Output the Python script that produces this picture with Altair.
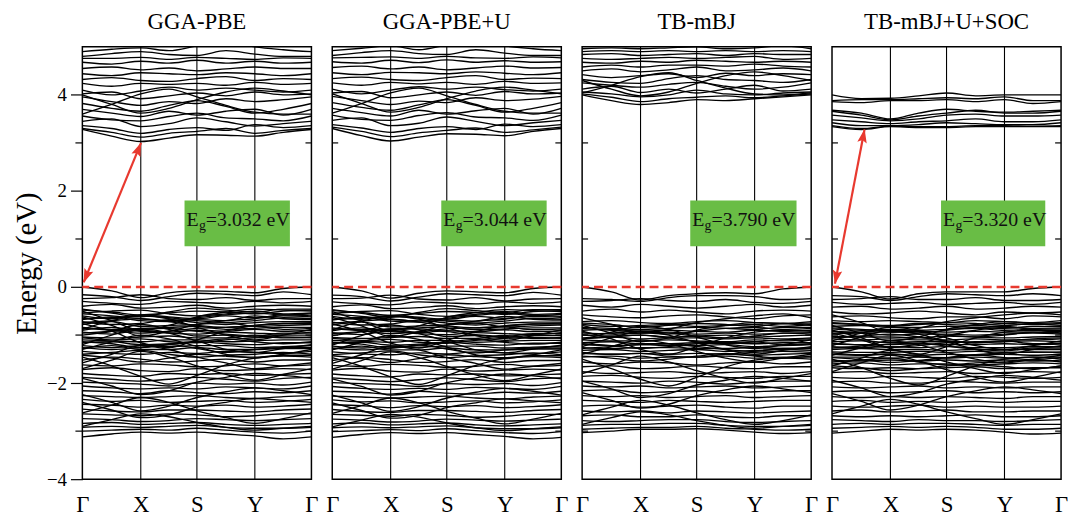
import math
import altair as alt
import pandas as pd

# ---------------- data ----------------
K_LABELS = ["Γ", "X", "S", "Y", "Γ"]
K_TICKS = [0.0, 0.255, 0.5, 0.753, 1.0]
KPTS = [0.0, 0.128, 0.255, 0.378, 0.5, 0.627, 0.753, 0.877, 1.0]

TITLES = ["GGA-PBE", "GGA-PBE+U", "TB-mBJ", "TB-mBJ+U+SOC"]
GAP_TEXT = ["=3.032 eV", "=3.044 eV", "=3.790 eV", "=3.320 eV"]
BOX_X = [(0.446, 0.906), (0.476, 0.936), (0.472, 0.936), (0.476, 0.931)]
BOX_Y = (0.85, 1.80)
TEXT_Y = 1.28
# arrows: panel index -> ((k_bottom, E_bottom), (k_top, E_top))
ARROWS = {0: ((0.006, 0.10), (0.256, 3.00)), 3: ((0.013, 0.07), (0.142, 3.28))}

PBE_CB = [
    [3.28, 3.14, 3.03, 3.10, 3.17, 3.16, 3.14, 3.22, 3.28],
    [3.30, 3.22, 3.12, 3.20, 3.24, 3.30, 3.20, 3.26, 3.30],
    [3.36, 3.30, 3.20, 3.28, 3.32, 3.26, 3.38, 3.32, 3.36],
    [3.45, 3.50, 3.34, 3.40, 3.52, 3.44, 3.35, 3.40, 3.45],
    [3.56, 3.48, 3.46, 3.55, 3.62, 3.52, 3.50, 3.46, 3.56],
    [3.70, 3.62, 3.55, 3.66, 3.58, 3.66, 3.70, 3.58, 3.70],
    [3.82, 3.72, 3.66, 3.78, 3.88, 3.76, 3.62, 3.70, 3.82],
    [3.96, 3.86, 3.78, 3.86, 3.82, 3.92, 3.86, 3.90, 3.96],
    [4.02, 4.06, 3.92, 3.98, 4.04, 3.98, 4.06, 4.00, 4.02],
    [4.10, 4.00, 4.08, 4.16, 4.10, 4.14, 4.10, 4.06, 4.10],
    [4.24, 4.18, 4.24, 4.22, 4.24, 4.20, 4.26, 4.22, 4.24],
    [4.32, 4.36, 4.30, 4.28, 4.34, 4.38, 4.30, 4.34, 4.32],
    [4.44, 4.40, 4.46, 4.44, 4.42, 4.46, 4.44, 4.40, 4.44],
    [4.55, 4.58, 4.52, 4.56, 4.50, 4.54, 4.58, 4.55, 4.55],
    [4.68, 4.64, 4.70, 4.66, 4.72, 4.66, 4.70, 4.66, 4.68],
    [4.76, 4.76, 4.78, 4.74, 4.78, 4.76, 4.74, 4.77, 4.76],
    [4.80, 4.86, 4.90, 4.84, 4.82, 4.92, 4.85, 4.80, 4.80],
    [4.90, 4.95, 4.98, 4.92, 5.02, 5.12, 5.00, 4.94, 4.90],
    [4.00, 3.80, 3.62, 3.72, 3.90, 4.06, 4.14, 4.08, 4.00],
    [3.60, 3.80, 4.02, 4.12, 3.96, 3.78, 3.64, 3.60, 3.60],
]
PBE_VB = [
    [0.00, -0.08, -0.22, -0.12, -0.08, -0.09, -0.12, -0.03, 0.00],
    [-0.16, -0.20, -0.28, -0.20, -0.13, -0.15, -0.18, -0.10, -0.16],
    [-0.24, -0.22, -0.16, -0.24, -0.26, -0.22, -0.28, -0.24, -0.24],
    [-0.30, -0.34, -0.36, -0.30, -0.32, -0.34, -0.30, -0.33, -0.30],
    [-0.40, -0.36, -0.44, -0.42, -0.38, -0.44, -0.40, -0.38, -0.40],
    [-0.46, -0.54, -0.62, -0.52, -0.44, -0.48, -0.52, -0.46, -0.46],
    [-0.54, -0.50, -0.48, -0.56, -0.60, -0.56, -0.50, -0.56, -0.54],
    [-0.60, -0.66, -0.58, -0.62, -0.66, -0.60, -0.64, -0.58, -0.60],
    [-0.68, -0.62, -0.70, -0.72, -0.68, -0.70, -0.60, -0.66, -0.68],
    [-0.72, -0.78, -0.76, -0.68, -0.74, -0.78, -0.74, -0.72, -0.72],
    [-0.78, -0.72, -0.82, -0.80, -0.78, -0.74, -0.82, -0.80, -0.78],
    [-0.84, -0.88, -0.86, -0.84, -0.82, -0.88, -0.86, -0.84, -0.84],
    [-0.90, -0.84, -0.92, -0.94, -0.90, -0.92, -0.88, -0.92, -0.90],
    [-0.94, -0.98, -0.90, -0.96, -0.98, -0.94, -0.96, -0.98, -0.94],
    [-1.00, -0.92, -0.78, -0.88, -1.02, -1.00, -1.04, -1.00, -1.00],
    [-1.04, -1.06, -1.04, -1.02, -1.06, -1.06, -1.00, -1.06, -1.04],
    [-1.10, -1.12, -1.14, -1.10, -1.10, -1.14, -1.12, -1.10, -1.10],
    [-1.16, -1.14, -1.20, -1.18, -1.14, -1.18, -1.20, -1.16, -1.16],
    [-1.22, -1.26, -1.22, -1.24, -1.22, -1.22, -1.26, -1.24, -1.22],
    [-1.28, -1.22, -1.30, -1.30, -1.26, -1.30, -1.30, -1.28, -1.28],
    [-1.34, -1.38, -1.40, -1.36, -1.38, -1.34, -1.36, -1.38, -1.34],
    [-1.42, -1.48, -1.56, -1.48, -1.40, -1.44, -1.46, -1.42, -1.42],
    [-1.52, -1.46, -1.50, -1.56, -1.54, -1.50, -1.56, -1.52, -1.52],
    [-1.62, -1.64, -1.60, -1.62, -1.66, -1.64, -1.60, -1.64, -1.62],
    [-1.72, -1.68, -1.74, -1.76, -1.70, -1.74, -1.72, -1.70, -1.72],
    [-1.80, -1.84, -1.86, -1.80, -1.82, -1.80, -1.84, -1.82, -1.80],
    [-1.88, -1.92, -1.96, -1.92, -1.88, -1.92, -1.96, -1.90, -1.88],
    [-1.98, -2.00, -2.02, -2.06, -2.00, -2.02, -2.00, -2.04, -1.98],
    [-2.06, -2.10, -2.12, -2.10, -2.12, -2.08, -2.10, -2.12, -2.06],
    [-2.16, -2.18, -2.22, -2.16, -2.20, -2.22, -2.18, -2.20, -2.16],
    [-2.26, -2.28, -2.30, -2.28, -2.26, -2.30, -2.32, -2.28, -2.26],
    [-2.34, -2.38, -2.36, -2.40, -2.38, -2.36, -2.40, -2.38, -2.34],
    [-2.44, -2.46, -2.50, -2.46, -2.48, -2.46, -2.50, -2.48, -2.44],
    [-2.54, -2.58, -2.60, -2.56, -2.56, -2.58, -2.60, -2.56, -2.54],
    [-2.64, -2.66, -2.68, -2.64, -2.66, -2.70, -2.68, -2.64, -2.64],
    [-2.74, -2.76, -2.80, -2.78, -2.74, -2.76, -2.78, -2.76, -2.74],
    [-2.84, -2.82, -2.86, -2.84, -2.82, -2.86, -2.88, -2.86, -2.84],
    [-2.92, -2.90, -2.92, -2.90, -2.88, -2.92, -2.94, -2.94, -2.92],
    [-3.00, -2.98, -2.96, -2.98, -2.94, -2.98, -3.02, -3.04, -3.00],
    [-3.12, -3.06, -3.02, -3.04, -3.02, -3.06, -3.10, -3.16, -3.12],
    [-0.62, -0.80, -1.02, -0.92, -0.78, -0.70, -0.66, -0.60, -0.62],
    [-1.20, -1.00, -0.86, -0.96, -1.12, -1.30, -1.36, -1.28, -1.20],
    [-1.70, -1.52, -1.34, -1.46, -1.64, -1.82, -1.94, -1.82, -1.70],
    [-2.24, -2.40, -2.58, -2.48, -2.30, -2.18, -2.10, -2.16, -2.24],
    [-1.46, -1.64, -1.86, -2.02, -1.84, -1.62, -1.48, -1.44, -1.46],
    [-2.62, -2.46, -2.30, -2.40, -2.58, -2.72, -2.84, -2.74, -2.62],
    [-0.50, -0.70, -0.90, -0.80, -0.62, -0.52, -0.46, -0.48, -0.50],
    [-0.88, -0.70, -0.60, -0.66, -0.84, -1.00, -1.10, -1.00, -0.88],
    [-1.30, -1.14, -1.00, -1.08, -1.24, -1.40, -1.48, -1.40, -1.30],
    [-0.76, -0.92, -1.16, -1.26, -1.10, -0.92, -0.80, -0.76, -0.76],
    [-1.58, -1.40, -1.22, -1.30, -1.46, -1.58, -1.70, -1.64, -1.58],
    [-1.90, -2.06, -2.24, -2.16, -1.98, -1.88, -1.80, -1.84, -1.90],
    [-2.40, -2.56, -2.72, -2.66, -2.50, -2.40, -2.32, -2.36, -2.40],
    [-2.90, -2.76, -2.64, -2.70, -2.82, -2.92, -2.98, -2.94, -2.90],
    [-0.48, -0.52, -0.58, -0.54, -0.50, -0.52, -0.56, -0.50, -0.48],
    [-0.56, -0.60, -0.66, -0.70, -0.64, -0.58, -0.54, -0.58, -0.56],
    [-0.66, -0.64, -0.60, -0.64, -0.70, -0.74, -0.70, -0.64, -0.66],
    [-0.74, -0.70, -0.66, -0.72, -0.80, -0.84, -0.80, -0.76, -0.74],
    [-0.86, -0.90, -0.96, -0.92, -0.86, -0.84, -0.82, -0.88, -0.86],
    [-0.96, -0.92, -0.88, -0.86, -0.92, -0.98, -1.02, -0.96, -0.96],
    [-1.06, -1.10, -1.08, -1.14, -1.16, -1.10, -1.06, -1.04, -1.06],
    [-1.14, -1.18, -1.26, -1.20, -1.14, -1.08, -1.14, -1.18, -1.14],
    [-1.26, -1.30, -1.26, -1.20, -1.28, -1.36, -1.30, -1.26, -1.26],
    [-1.40, -1.36, -1.32, -1.40, -1.46, -1.42, -1.40, -1.36, -1.40],
]

PBEU_CB = [
    [3.30, 3.15, 3.04, 3.12, 3.19, 3.18, 3.15, 3.24, 3.30],
    [3.33, 3.24, 3.13, 3.21, 3.26, 3.31, 3.22, 3.27, 3.33],
    [3.38, 3.31, 3.22, 3.30, 3.34, 3.28, 3.39, 3.34, 3.38],
    [3.47, 3.52, 3.36, 3.41, 3.54, 3.45, 3.36, 3.42, 3.47],
    [3.58, 3.49, 3.47, 3.57, 3.63, 3.54, 3.52, 3.47, 3.58],
    [3.72, 3.63, 3.56, 3.68, 3.60, 3.67, 3.72, 3.60, 3.72],
    [3.84, 3.74, 3.68, 3.79, 3.90, 3.78, 3.64, 3.72, 3.84],
    [3.97, 3.88, 3.80, 3.87, 3.84, 3.94, 3.88, 3.91, 3.97],
    [4.04, 4.07, 3.94, 4.00, 4.06, 3.99, 4.07, 4.02, 4.04],
    [4.12, 4.02, 4.10, 4.17, 4.12, 4.16, 4.11, 4.08, 4.12],
    [4.25, 4.20, 4.26, 4.23, 4.26, 4.22, 4.28, 4.24, 4.25],
    [4.34, 4.37, 4.32, 4.30, 4.36, 4.40, 4.32, 4.35, 4.34],
    [4.46, 4.42, 4.47, 4.46, 4.44, 4.48, 4.45, 4.42, 4.46],
    [4.57, 4.60, 4.54, 4.58, 4.52, 4.56, 4.60, 4.56, 4.57],
    [4.69, 4.66, 4.72, 4.67, 4.73, 4.68, 4.71, 4.68, 4.69],
    [4.77, 4.78, 4.79, 4.76, 4.80, 4.77, 4.76, 4.79, 4.77],
    [4.82, 4.88, 4.92, 4.86, 4.84, 4.94, 4.87, 4.82, 4.82],
    [4.92, 4.97, 5.02, 4.94, 5.04, 5.14, 5.02, 4.96, 4.92],
    [4.02, 3.82, 3.64, 3.74, 3.92, 4.08, 4.16, 4.10, 4.02],
    [3.62, 3.82, 4.04, 4.14, 3.98, 3.80, 3.66, 3.62, 3.62],
]
PBEU_VB = [
    [0.00, -0.08, -0.23, -0.13, -0.08, -0.10, -0.12, -0.03, 0.00],
    [-0.17, -0.20, -0.29, -0.21, -0.14, -0.16, -0.18, -0.11, -0.17],
    [-0.24, -0.23, -0.17, -0.25, -0.27, -0.22, -0.29, -0.25, -0.24],
    [-0.31, -0.35, -0.37, -0.31, -0.33, -0.35, -0.31, -0.34, -0.31],
    [-0.41, -0.37, -0.45, -0.43, -0.39, -0.45, -0.41, -0.39, -0.41],
    [-0.47, -0.55, -0.63, -0.53, -0.45, -0.49, -0.53, -0.47, -0.47],
    [-0.55, -0.51, -0.49, -0.57, -0.61, -0.57, -0.51, -0.57, -0.55],
    [-0.61, -0.67, -0.59, -0.63, -0.67, -0.61, -0.65, -0.59, -0.61],
    [-0.69, -0.63, -0.71, -0.73, -0.69, -0.71, -0.61, -0.67, -0.69],
    [-0.73, -0.79, -0.77, -0.69, -0.75, -0.79, -0.75, -0.73, -0.73],
    [-0.79, -0.73, -0.83, -0.81, -0.79, -0.75, -0.83, -0.81, -0.79],
    [-0.85, -0.89, -0.87, -0.85, -0.83, -0.89, -0.87, -0.85, -0.85],
    [-0.91, -0.85, -0.93, -0.95, -0.91, -0.93, -0.89, -0.93, -0.91],
    [-0.95, -0.99, -0.91, -0.97, -0.99, -0.95, -0.97, -0.99, -0.95],
    [-1.01, -0.93, -0.79, -0.89, -1.03, -1.01, -1.05, -1.01, -1.01],
    [-1.05, -1.07, -1.05, -1.03, -1.07, -1.07, -1.01, -1.07, -1.05],
    [-1.11, -1.13, -1.15, -1.11, -1.11, -1.15, -1.13, -1.11, -1.11],
    [-1.17, -1.15, -1.21, -1.19, -1.15, -1.19, -1.21, -1.17, -1.17],
    [-1.23, -1.27, -1.23, -1.25, -1.23, -1.23, -1.27, -1.25, -1.23],
    [-1.29, -1.23, -1.31, -1.31, -1.27, -1.31, -1.31, -1.29, -1.29],
    [-1.35, -1.39, -1.41, -1.37, -1.39, -1.35, -1.37, -1.39, -1.35],
    [-1.43, -1.49, -1.57, -1.49, -1.41, -1.45, -1.47, -1.43, -1.43],
    [-1.53, -1.47, -1.51, -1.57, -1.55, -1.51, -1.57, -1.53, -1.53],
    [-1.63, -1.65, -1.61, -1.63, -1.67, -1.65, -1.61, -1.65, -1.63],
    [-1.73, -1.69, -1.75, -1.77, -1.71, -1.75, -1.73, -1.71, -1.73],
    [-1.81, -1.85, -1.87, -1.81, -1.83, -1.81, -1.85, -1.83, -1.81],
    [-1.89, -1.93, -1.97, -1.93, -1.89, -1.93, -1.97, -1.91, -1.89],
    [-1.99, -2.01, -2.03, -2.07, -2.01, -2.03, -2.01, -2.05, -1.99],
    [-2.07, -2.11, -2.13, -2.11, -2.13, -2.09, -2.11, -2.13, -2.07],
    [-2.17, -2.19, -2.23, -2.17, -2.21, -2.23, -2.19, -2.21, -2.17],
    [-2.27, -2.29, -2.31, -2.29, -2.27, -2.31, -2.33, -2.29, -2.27],
    [-2.35, -2.39, -2.37, -2.41, -2.39, -2.37, -2.41, -2.39, -2.35],
    [-2.45, -2.47, -2.51, -2.47, -2.49, -2.47, -2.51, -2.49, -2.45],
    [-2.55, -2.59, -2.61, -2.57, -2.57, -2.59, -2.61, -2.57, -2.55],
    [-2.65, -2.67, -2.69, -2.65, -2.67, -2.71, -2.69, -2.65, -2.65],
    [-2.75, -2.77, -2.81, -2.79, -2.75, -2.77, -2.79, -2.77, -2.75],
    [-2.85, -2.83, -2.87, -2.85, -2.83, -2.87, -2.89, -2.87, -2.85],
    [-2.93, -2.91, -2.93, -2.91, -2.89, -2.93, -2.95, -2.95, -2.93],
    [-3.01, -2.99, -2.97, -2.99, -2.95, -2.99, -3.03, -3.05, -3.01],
    [-3.13, -3.07, -3.03, -3.05, -3.03, -3.07, -3.11, -3.16, -3.13],
    [-0.63, -0.81, -1.03, -0.93, -0.79, -0.71, -0.67, -0.61, -0.63],
    [-1.21, -1.01, -0.87, -0.97, -1.13, -1.31, -1.37, -1.29, -1.21],
    [-1.71, -1.53, -1.35, -1.47, -1.65, -1.83, -1.95, -1.83, -1.71],
    [-2.25, -2.41, -2.59, -2.49, -2.31, -2.19, -2.11, -2.17, -2.25],
    [-1.47, -1.65, -1.87, -2.03, -1.85, -1.63, -1.49, -1.45, -1.47],
    [-2.63, -2.47, -2.31, -2.41, -2.59, -2.73, -2.85, -2.75, -2.63],
    [-0.51, -0.71, -0.91, -0.81, -0.63, -0.53, -0.47, -0.49, -0.51],
    [-0.89, -0.71, -0.61, -0.67, -0.85, -1.01, -1.11, -1.01, -0.89],
    [-1.31, -1.15, -1.01, -1.09, -1.25, -1.41, -1.49, -1.41, -1.31],
    [-0.77, -0.93, -1.17, -1.27, -1.11, -0.93, -0.81, -0.77, -0.77],
    [-1.59, -1.41, -1.23, -1.31, -1.47, -1.59, -1.71, -1.65, -1.59],
    [-1.91, -2.07, -2.25, -2.17, -1.99, -1.89, -1.81, -1.85, -1.91],
    [-2.41, -2.57, -2.73, -2.67, -2.51, -2.41, -2.33, -2.37, -2.41],
    [-2.91, -2.77, -2.65, -2.71, -2.83, -2.93, -2.99, -2.95, -2.91],
    [-0.49, -0.53, -0.59, -0.55, -0.51, -0.53, -0.57, -0.51, -0.49],
    [-0.57, -0.61, -0.67, -0.71, -0.65, -0.59, -0.55, -0.59, -0.57],
    [-0.67, -0.65, -0.61, -0.65, -0.71, -0.75, -0.71, -0.65, -0.67],
    [-0.75, -0.71, -0.67, -0.73, -0.81, -0.85, -0.81, -0.77, -0.75],
    [-0.87, -0.91, -0.97, -0.93, -0.87, -0.85, -0.83, -0.89, -0.87],
    [-0.97, -0.93, -0.89, -0.87, -0.93, -0.99, -1.03, -0.97, -0.97],
    [-1.07, -1.11, -1.09, -1.15, -1.17, -1.11, -1.07, -1.05, -1.07],
    [-1.15, -1.19, -1.27, -1.21, -1.15, -1.09, -1.15, -1.19, -1.15],
    [-1.27, -1.31, -1.27, -1.21, -1.29, -1.37, -1.31, -1.27, -1.27],
    [-1.41, -1.37, -1.33, -1.41, -1.47, -1.43, -1.41, -1.37, -1.41],
]

MBJ_CB = [
    [4.00, 3.88, 3.80, 3.84, 3.90, 3.88, 3.92, 3.96, 4.00],
    [4.02, 3.95, 3.86, 3.92, 3.95, 3.98, 3.94, 3.98, 4.02],
    [4.06, 4.02, 3.96, 4.00, 4.10, 4.02, 4.00, 4.04, 4.06],
    [4.12, 4.18, 4.05, 4.12, 4.04, 4.12, 4.20, 4.08, 4.12],
    [4.25, 4.20, 4.16, 4.22, 4.26, 4.18, 4.12, 4.16, 4.25],
    [4.32, 4.26, 4.24, 4.34, 4.40, 4.32, 4.30, 4.26, 4.32],
    [4.42, 4.36, 4.40, 4.44, 4.36, 4.45, 4.40, 4.44, 4.42],
    [4.50, 4.54, 4.48, 4.52, 4.58, 4.50, 4.52, 4.56, 4.50],
    [4.58, 4.62, 4.58, 4.62, 4.62, 4.60, 4.64, 4.60, 4.58],
    [4.68, 4.66, 4.70, 4.68, 4.72, 4.70, 4.68, 4.70, 4.68],
    [4.76, 4.74, 4.76, 4.78, 4.76, 4.78, 4.80, 4.74, 4.76],
    [4.84, 4.86, 4.82, 4.84, 4.86, 4.82, 4.86, 4.84, 4.84],
    [4.90, 4.92, 4.90, 4.92, 4.90, 4.92, 4.90, 4.92, 4.90],
    [4.96, 4.98, 4.96, 4.98, 5.00, 4.96, 4.98, 5.02, 4.96],
    [4.30, 4.12, 3.98, 4.06, 4.24, 4.40, 4.48, 4.40, 4.30],
    [4.04, 4.20, 4.38, 4.46, 4.30, 4.14, 4.02, 4.00, 4.04],
]
MBJ_VB = [
    [0.00, -0.10, -0.27, -0.18, -0.14, -0.12, -0.14, -0.04, 0.00],
    [-0.24, -0.26, -0.30, -0.22, -0.18, -0.18, -0.20, -0.26, -0.24],
    [-0.30, -0.28, -0.24, -0.28, -0.30, -0.26, -0.32, -0.34, -0.30],
    [-0.38, -0.42, -0.36, -0.40, -0.44, -0.40, -0.36, -0.42, -0.38],
    [-0.50, -0.46, -0.52, -0.48, -0.52, -0.56, -0.50, -0.48, -0.50],
    [-0.58, -0.62, -0.64, -0.60, -0.58, -0.62, -0.66, -0.60, -0.58],
    [-0.72, -0.70, -0.74, -0.76, -0.72, -0.70, -0.74, -0.76, -0.72],
    [-0.78, -0.82, -0.80, -0.78, -0.82, -0.80, -0.78, -0.82, -0.78],
    [-0.84, -0.86, -0.88, -0.86, -0.84, -0.86, -0.88, -0.84, -0.84],
    [-0.90, -0.88, -0.92, -0.90, -0.92, -0.94, -0.90, -0.92, -0.90],
    [-0.95, -0.98, -0.96, -0.94, -0.98, -0.96, -0.98, -0.96, -0.95],
    [-1.00, -1.02, -1.00, -1.04, -1.02, -1.00, -1.04, -1.02, -1.00],
    [-1.06, -1.04, -1.08, -1.06, -1.06, -1.08, -1.06, -1.08, -1.06],
    [-1.10, -1.12, -1.12, -1.10, -1.12, -1.14, -1.10, -1.12, -1.10],
    [-1.16, -1.14, -1.18, -1.18, -1.16, -1.16, -1.18, -1.16, -1.16],
    [-1.20, -1.22, -1.20, -1.22, -1.22, -1.20, -1.24, -1.22, -1.20],
    [-1.26, -1.28, -1.26, -1.26, -1.28, -1.28, -1.26, -1.28, -1.26],
    [-1.32, -1.30, -1.34, -1.32, -1.30, -1.34, -1.32, -1.30, -1.32],
    [-1.38, -1.40, -1.38, -1.40, -1.38, -1.40, -1.42, -1.40, -1.38],
    [-1.46, -1.44, -1.48, -1.46, -1.46, -1.44, -1.48, -1.46, -1.46],
    [-1.56, -1.60, -1.56, -1.58, -1.62, -1.58, -1.56, -1.60, -1.56],
    [-1.66, -1.64, -1.70, -1.68, -1.64, -1.68, -1.70, -1.66, -1.66],
    [-1.76, -1.80, -1.78, -1.76, -1.80, -1.78, -1.76, -1.80, -1.76],
    [-1.86, -1.84, -1.88, -1.90, -1.86, -1.88, -1.90, -1.86, -1.86],
    [-1.96, -1.98, -2.00, -1.96, -1.98, -2.02, -1.98, -1.96, -1.96],
    [-2.06, -2.08, -2.06, -2.10, -2.08, -2.06, -2.10, -2.08, -2.06],
    [-2.16, -2.14, -2.20, -2.18, -2.16, -2.20, -2.18, -2.16, -2.16],
    [-2.26, -2.28, -2.26, -2.30, -2.28, -2.26, -2.30, -2.28, -2.26],
    [-2.36, -2.38, -2.40, -2.36, -2.38, -2.40, -2.38, -2.36, -2.36],
    [-2.48, -2.46, -2.50, -2.48, -2.46, -2.50, -2.52, -2.48, -2.48],
    [-2.58, -2.60, -2.58, -2.62, -2.58, -2.60, -2.62, -2.60, -2.58],
    [-2.68, -2.66, -2.70, -2.70, -2.66, -2.70, -2.72, -2.68, -2.68],
    [-2.78, -2.80, -2.78, -2.76, -2.76, -2.80, -2.82, -2.80, -2.78],
    [-2.88, -2.86, -2.86, -2.84, -2.84, -2.88, -2.90, -2.90, -2.88],
    [-2.96, -2.94, -2.92, -2.92, -2.90, -2.94, -2.96, -2.98, -2.96],
    [-3.03, -3.00, -2.96, -2.96, -2.95, -2.98, -3.02, -3.05, -3.03],
    [-0.64, -0.78, -0.96, -0.88, -0.74, -0.66, -0.60, -0.56, -0.64],
    [-1.24, -1.06, -0.92, -1.00, -1.16, -1.30, -1.40, -1.32, -1.24],
    [-1.80, -1.62, -1.44, -1.56, -1.74, -1.90, -2.00, -1.90, -1.80],
    [-2.20, -2.36, -2.52, -2.44, -2.26, -2.14, -2.06, -2.12, -2.20],
    [-1.50, -1.70, -1.92, -2.06, -1.88, -1.66, -1.52, -1.48, -1.50],
    [-2.66, -2.50, -2.36, -2.46, -2.62, -2.76, -2.86, -2.78, -2.66],
    [-0.80, -0.96, -1.14, -1.06, -0.90, -0.80, -0.74, -0.76, -0.80],
    [-1.10, -0.94, -0.82, -0.88, -1.04, -1.20, -1.28, -1.20, -1.10],
    [-1.40, -1.24, -1.10, -1.18, -1.34, -1.48, -1.56, -1.48, -1.40],
    [-0.92, -1.08, -1.30, -1.40, -1.24, -1.06, -0.94, -0.90, -0.92],
    [-1.96, -2.12, -2.30, -2.22, -2.04, -1.94, -1.86, -1.90, -1.96],
    [-2.86, -2.72, -2.60, -2.66, -2.78, -2.88, -2.94, -2.90, -2.86],
    [-0.75, -0.78, -0.84, -0.80, -0.76, -0.78, -0.82, -0.76, -0.75],
    [-0.86, -0.90, -0.94, -0.98, -0.92, -0.86, -0.84, -0.88, -0.86],
    [-0.98, -0.96, -0.92, -0.96, -1.02, -1.06, -1.02, -0.96, -0.98],
    [-1.08, -1.04, -1.00, -1.06, -1.14, -1.18, -1.14, -1.10, -1.08],
    [-1.18, -1.22, -1.28, -1.24, -1.18, -1.16, -1.14, -1.20, -1.18],
    [-1.28, -1.24, -1.20, -1.18, -1.24, -1.30, -1.34, -1.28, -1.28],
    [-1.36, -1.40, -1.38, -1.44, -1.46, -1.40, -1.36, -1.34, -1.36],
    [-1.44, -1.48, -1.54, -1.50, -1.44, -1.38, -1.44, -1.48, -1.44],
]

SOC_CB = [
    [4.00, 3.92, 3.93, 3.98, 4.04, 3.98, 4.00, 4.00, 4.00],
    [3.88, 3.90, 3.90, 3.92, 3.94, 3.92, 3.96, 3.88, 3.88],
    [3.86, 3.84, 3.88, 3.88, 3.90, 3.86, 3.90, 3.82, 3.86],
    [3.68, 3.62, 3.50, 3.62, 3.70, 3.66, 3.64, 3.66, 3.68],
    [3.66, 3.58, 3.48, 3.56, 3.62, 3.68, 3.62, 3.62, 3.66],
    [3.58, 3.52, 3.46, 3.50, 3.58, 3.60, 3.56, 3.56, 3.58],
    [3.48, 3.44, 3.40, 3.44, 3.46, 3.50, 3.44, 3.44, 3.48],
    [3.42, 3.36, 3.36, 3.38, 3.42, 3.40, 3.38, 3.38, 3.42],
    [3.36, 3.30, 3.35, 3.34, 3.34, 3.36, 3.36, 3.35, 3.36],
    [3.34, 3.28, 3.34, 3.32, 3.32, 3.34, 3.34, 3.34, 3.34],
]
SOC_VB = [
    [0.00, -0.10, -0.25, -0.14, -0.10, -0.10, -0.10, -0.03, 0.00],
    [-0.18, -0.20, -0.28, -0.20, -0.14, -0.16, -0.18, -0.14, -0.18],
    [-0.26, -0.24, -0.20, -0.26, -0.26, -0.22, -0.28, -0.28, -0.26],
    [-0.32, -0.36, -0.34, -0.32, -0.36, -0.34, -0.32, -0.36, -0.32],
    [-0.42, -0.40, -0.46, -0.44, -0.40, -0.46, -0.44, -0.40, -0.42],
    [-0.52, -0.56, -0.54, -0.50, -0.54, -0.58, -0.52, -0.54, -0.52],
    [-0.62, -0.60, -0.64, -0.66, -0.62, -0.62, -0.66, -0.60, -0.62],
    [-0.70, -0.72, -0.70, -0.72, -0.74, -0.70, -0.72, -0.74, -0.70],
    [-0.76, -0.78, -0.80, -0.76, -0.78, -0.80, -0.76, -0.78, -0.76],
    [-0.82, -0.80, -0.84, -0.84, -0.82, -0.84, -0.86, -0.82, -0.82],
    [-0.87, -0.90, -0.88, -0.90, -0.88, -0.86, -0.90, -0.88, -0.87],
    [-0.92, -0.94, -0.94, -0.92, -0.94, -0.92, -0.94, -0.94, -0.92],
    [-0.98, -0.96, -1.00, -0.98, -0.98, -1.00, -0.98, -0.96, -0.98],
    [-1.03, -1.04, -1.04, -1.06, -1.02, -1.04, -1.06, -1.04, -1.03],
    [-1.08, -1.10, -1.08, -1.10, -1.10, -1.08, -1.10, -1.10, -1.08],
    [-1.14, -1.12, -1.16, -1.14, -1.14, -1.16, -1.14, -1.12, -1.14],
    [-1.19, -1.20, -1.20, -1.18, -1.20, -1.20, -1.18, -1.20, -1.19],
    [-1.24, -1.26, -1.24, -1.26, -1.24, -1.26, -1.26, -1.24, -1.24],
    [-1.30, -1.28, -1.30, -1.30, -1.32, -1.30, -1.30, -1.30, -1.30],
    [-1.35, -1.36, -1.36, -1.34, -1.36, -1.34, -1.36, -1.36, -1.35],
    [-1.40, -1.42, -1.40, -1.42, -1.40, -1.42, -1.40, -1.42, -1.40],
    [-1.46, -1.46, -1.48, -1.46, -1.48, -1.46, -1.48, -1.46, -1.46],
    [-1.52, -1.54, -1.52, -1.54, -1.52, -1.54, -1.52, -1.54, -1.52],
    [-1.60, -1.58, -1.62, -1.60, -1.60, -1.62, -1.60, -1.58, -1.60],
    [-1.68, -1.70, -1.68, -1.70, -1.68, -1.66, -1.70, -1.68, -1.68],
    [-1.78, -1.76, -1.80, -1.78, -1.76, -1.80, -1.78, -1.76, -1.78],
    [-1.88, -1.90, -1.86, -1.88, -1.90, -1.86, -1.88, -1.90, -1.88],
    [-1.98, -1.96, -2.00, -2.00, -1.96, -1.98, -2.00, -1.98, -1.98],
    [-2.08, -2.10, -2.08, -2.06, -2.10, -2.08, -2.10, -2.08, -2.08],
    [-2.18, -2.16, -2.20, -2.18, -2.16, -2.20, -2.18, -2.20, -2.18],
    [-2.28, -2.30, -2.28, -2.30, -2.28, -2.30, -2.32, -2.28, -2.28],
    [-2.38, -2.36, -2.40, -2.38, -2.40, -2.38, -2.40, -2.38, -2.38],
    [-2.48, -2.50, -2.48, -2.46, -2.50, -2.48, -2.50, -2.50, -2.48],
    [-2.58, -2.56, -2.60, -2.58, -2.56, -2.60, -2.60, -2.58, -2.58],
    [-2.68, -2.70, -2.68, -2.70, -2.68, -2.66, -2.70, -2.70, -2.68],
    [-2.76, -2.78, -2.80, -2.76, -2.78, -2.78, -2.80, -2.78, -2.76],
    [-2.86, -2.84, -2.86, -2.84, -2.84, -2.86, -2.88, -2.86, -2.86],
    [-2.94, -2.92, -2.90, -2.92, -2.90, -2.92, -2.96, -2.96, -2.94],
    [-3.04, -3.00, -2.96, -2.98, -2.96, -2.98, -3.02, -3.06, -3.04],
    [-0.58, -0.74, -0.94, -0.86, -0.72, -0.64, -0.58, -0.54, -0.58],
    [-1.22, -1.04, -0.90, -0.98, -1.14, -1.30, -1.40, -1.30, -1.22],
    [-1.76, -1.58, -1.42, -1.54, -1.72, -1.88, -1.98, -1.88, -1.76],
    [-2.22, -2.38, -2.56, -2.46, -2.28, -2.16, -2.08, -2.14, -2.22],
    [-1.50, -1.68, -1.90, -2.04, -1.86, -1.64, -1.50, -1.46, -1.50],
    [-2.64, -2.48, -2.34, -2.44, -2.60, -2.74, -2.86, -2.76, -2.64],
    [-0.96, -1.10, -1.26, -1.18, -1.02, -0.90, -0.84, -0.88, -0.96],
    [-0.80, -0.96, -1.12, -1.04, -0.88, -0.78, -0.72, -0.76, -0.80],
    [-1.12, -0.96, -0.84, -0.90, -1.06, -1.22, -1.30, -1.22, -1.12],
    [-1.42, -1.26, -1.12, -1.20, -1.36, -1.50, -1.58, -1.50, -1.42],
    [-0.90, -1.06, -1.28, -1.40, -1.24, -1.06, -0.94, -0.90, -0.90],
    [-1.64, -1.48, -1.32, -1.40, -1.56, -1.70, -1.80, -1.72, -1.64],
    [-1.94, -2.10, -2.28, -2.20, -2.02, -1.92, -1.84, -1.88, -1.94],
    [-0.74, -0.78, -0.82, -0.78, -0.74, -0.76, -0.80, -0.76, -0.74],
    [-0.85, -0.88, -0.92, -0.96, -0.90, -0.84, -0.82, -0.86, -0.85],
    [-0.96, -0.94, -0.90, -0.94, -1.00, -1.04, -1.00, -0.94, -0.96],
    [-1.06, -1.02, -0.98, -1.04, -1.12, -1.16, -1.12, -1.08, -1.06],
    [-1.17, -1.21, -1.26, -1.22, -1.16, -1.14, -1.12, -1.18, -1.17],
    [-1.27, -1.23, -1.19, -1.17, -1.23, -1.29, -1.33, -1.27, -1.27],
    [-1.37, -1.41, -1.39, -1.45, -1.47, -1.41, -1.37, -1.35, -1.37],
    [-1.47, -1.51, -1.57, -1.53, -1.47, -1.41, -1.47, -1.51, -1.47],
    [-1.56, -1.52, -1.48, -1.56, -1.62, -1.58, -1.56, -1.52, -1.56],
    [-1.64, -1.68, -1.74, -1.70, -1.64, -1.62, -1.66, -1.70, -1.64],
]

PANEL_BANDS = [PBE_CB + PBE_VB, PBEU_CB + PBEU_VB, MBJ_CB + MBJ_VB, SOC_CB + SOC_VB]

# ---------------- layout / style ----------------
W, H = 231, 436
E_MIN, E_MAX = -4, 5
PX_PER_EV = H / (E_MAX - E_MIN)
SERIF = "Liberation Serif"
RED = "#e8392f"
GREEN = "#69bd45"
ARROW_PATH = "M0,-1L0.6,0.75L0,0.42L-0.6,0.75Z"
HEAD_SIZE = 256  # half-extent 8 px

xscale = alt.Scale(domain=[0, 1], nice=False, zero=False)
yscale = alt.Scale(domain=[E_MIN, E_MAX], nice=False, zero=False)

label_expr = f"{K_LABELS}[indexof({K_TICKS}, datum.value)]"
x_axis = alt.Axis(values=K_TICKS, labelExpr=label_expr, ticks=False, domain=False,
                  grid=False, title=None, labelFont=SERIF, labelFontSize=23,
                  labelColor="black", labelPadding=15, labelFlush=False,
                  labelOverlap=False, labelBound=False)


def y_axis(first):
    if not first:
        return None
    return alt.Axis(values=[-4, -2, 0, 2, 4], tickSize=12, tickColor="black",
                    tickWidth=1.2, domain=False, grid=False, labelFont=SERIF,
                    labelFontSize=19, labelColor="black", labelPadding=4,
                    title="Energy (eV)", titleFont=SERIF, titleFontSize=29,
                    titleFontWeight="normal", titleColor="black", titlePadding=5)


def panel(i):
    YA = y_axis(i == 0)

    def X(field):
        return alt.X(field, scale=xscale, axis=x_axis)

    def Y(field):
        return alt.Y(field, scale=yscale, axis=YA)

    rows = []
    for b, vals in enumerate(PANEL_BANDS[i]):
        for k, e in zip(KPTS, vals):
            rows.append({"band": b, "k": k, "E": e})
    bands_df = pd.DataFrame(rows)

    bands = alt.Chart(bands_df).mark_line(
        color="black", strokeWidth=1.35, interpolate="monotone", clip=True
    ).encode(x=X("k:Q"), y=Y("E:Q"), detail="band:N")

    vlines = alt.Chart(pd.DataFrame({"k": K_TICKS[1:-1]})).mark_rule(
        color="black", strokeWidth=1.1
    ).encode(x=X("k:Q"))

    zero = alt.Chart(pd.DataFrame({"E": [0.0]})).mark_rule(
        color=RED, strokeWidth=2.6, strokeDash=[9, 5]
    ).encode(y=Y("E:Q"))

    # minor ticks (odd energies), drawn as short rules on the frame
    odd = [-3, -1, 1, 3]
    trows = []
    for e in odd:
        trows.append({"k": 1 - 6 / W, "k2": 1.0, "E": e})
        if i == 0:
            trows.append({"k": -7 / W, "k2": 0.0, "E": e})
        else:
            trows.append({"k": 0.0, "k2": 6 / W, "E": e})
    ticks = alt.Chart(pd.DataFrame(trows)).mark_rule(
        color="black", strokeWidth=1.2
    ).encode(x=X("k:Q"), x2="k2:Q", y=Y("E:Q"))

    bx0, bx1 = BOX_X[i]
    box = alt.Chart(pd.DataFrame({"k": [bx0], "k2": [bx1], "E": [BOX_Y[0]], "E2": [BOX_Y[1]]})
                    ).mark_rect(color=GREEN).encode(x=X("k:Q"), x2="k2:Q", y=Y("E:Q"), y2="E2:Q")

    tdf = pd.DataFrame({"k": [bx0 + 2 / W], "E": [TEXT_Y], "main": ["E"], "sub": ["g"],
                        "rest": [GAP_TEXT[i]]})
    tbase = alt.Chart(tdf)
    txt_e = tbase.mark_text(font=SERIF, fontSize=20, align="left", baseline="alphabetic",
                            color="#111111").encode(x=X("k:Q"), y=Y("E:Q"), text="main:N")
    txt_g = tbase.mark_text(font=SERIF, fontSize=14, align="left", baseline="alphabetic",
                            dx=12.5, dy=5, color="#111111").encode(x=X("k:Q"), y=Y("E:Q"), text="sub:N")
    txt_r = tbase.mark_text(font=SERIF, fontSize=20, align="left", baseline="alphabetic",
                            dx=19.5, color="#111111").encode(x=X("k:Q"), y=Y("E:Q"), text="rest:N")

    layers = [bands, vlines, ticks, zero, box, txt_e, txt_g, txt_r]

    if i in ARROWS:
        (ka, ea), (kb, eb) = ARROWS[i]
        dx = (kb - ka) * W
        dy = (eb - ea) * PX_PER_EV
        L = math.hypot(dx, dy)
        ux, uy = dx / L, dy / L
        ang = math.degrees(math.atan2(dx, dy)) % 360
        back = 7.5
        shaft = alt.Chart(pd.DataFrame({"k": [ka, kb], "E": [ea, eb], "o": [0, 1]})).mark_line(
            color=RED, strokeWidth=2.2
        ).encode(x=X("k:Q"), y=Y("E:Q"), order="o:Q")
        heads_df = pd.DataFrame({
            "k": [kb - back * ux / W, ka + back * ux / W],
            "E": [eb - back * uy / PX_PER_EV, ea + back * uy / PX_PER_EV],
            "ang": [ang, (ang + 180) % 360],
        })
        heads = alt.Chart(heads_df).mark_point(
            shape=ARROW_PATH, filled=True, color=RED, opacity=1, size=HEAD_SIZE, strokeWidth=0
        ).encode(x=X("k:Q"), y=Y("E:Q"), angle=alt.Angle("ang:Q", scale=None))
        layers += [shaft, heads]

    return alt.layer(*layers).properties(
        width=W, height=H,
        title=alt.TitleParams(TITLES[i], font=SERIF, fontSize=23, fontWeight="normal",
                              color="black", offset=12),
    )


chart = alt.hconcat(*[panel(i) for i in range(4)], spacing=21, bounds="flush").properties(
    padding={"left": 4, "top": 0, "right": 0, "bottom": 0}
).configure(background="white").configure_view(stroke="black", strokeWidth=1.5)

chart.save("out.html", embed_options={"renderer": "svg", "actions": False})
